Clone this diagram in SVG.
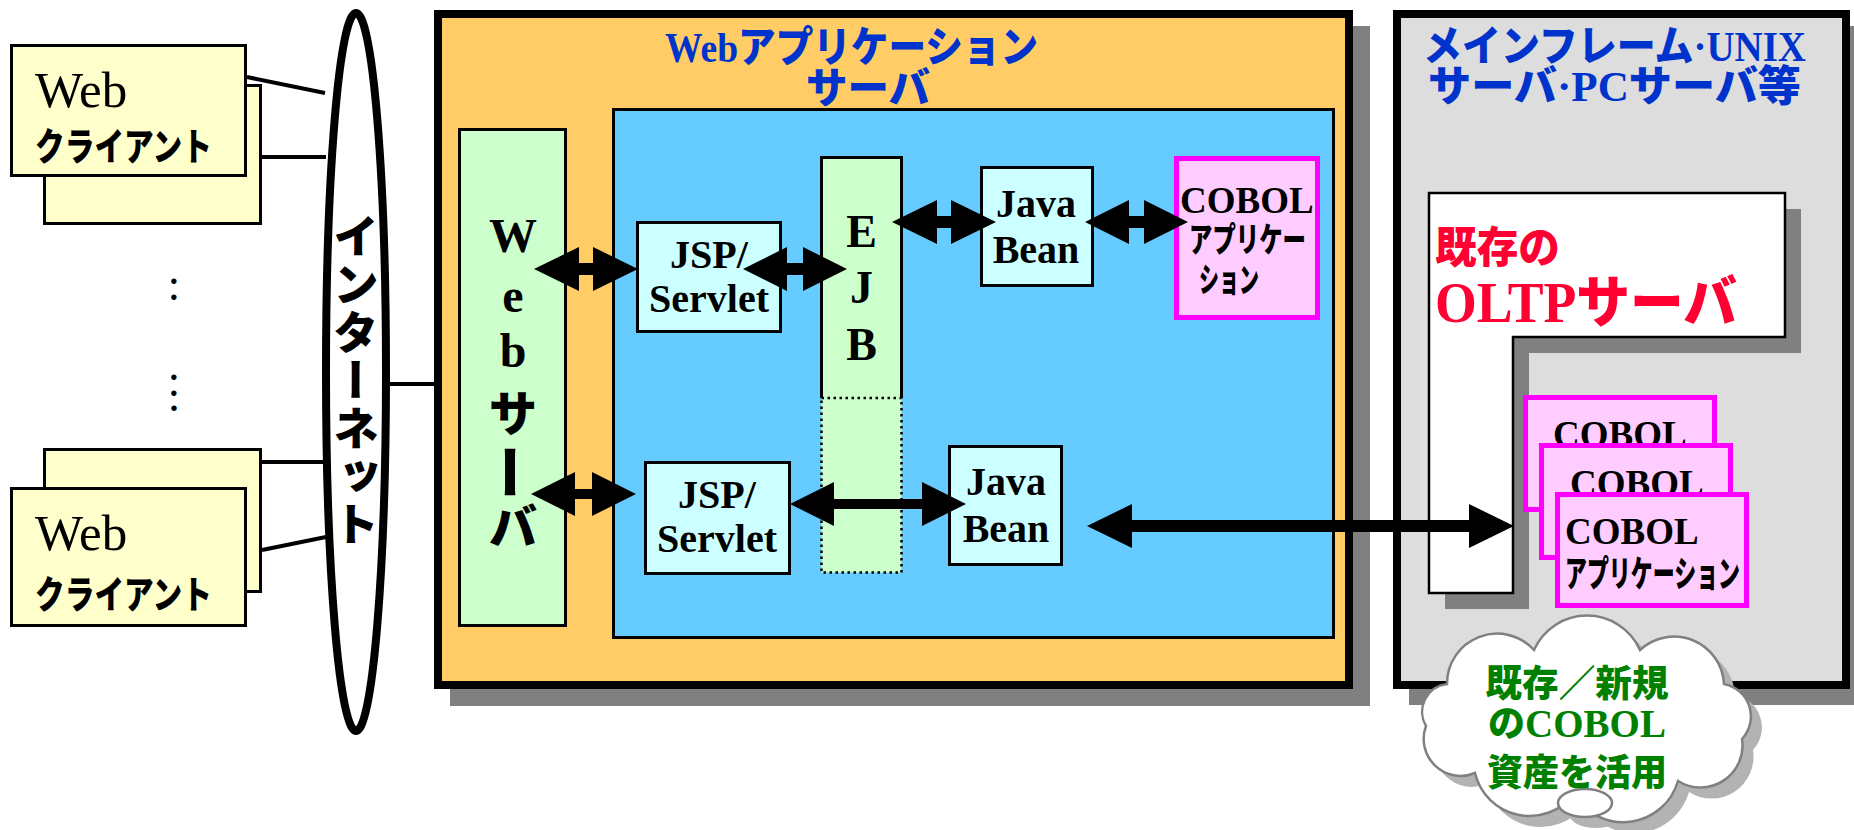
<svg xmlns="http://www.w3.org/2000/svg" width="1854" height="830" viewBox="0 0 1854 830">
<style>
.bx{stroke:#000;stroke-width:3}
.sb{font-family:"Liberation Serif","Noto Sans CJK JP",serif;font-weight:bold;fill:#000}
.sr{font-family:"Liberation Serif","Noto Sans CJK JP",serif;fill:#000}
.jp{font-family:"Noto Sans CJK JP",sans-serif;font-weight:900;fill:#000}
.mix{font-family:"Liberation Serif","Noto Sans CJK JP",serif;font-weight:900}
.cob{fill:#FFCCFF;stroke:#FF00FF;stroke-width:5}
.shadow{fill:#808080}
.ctr{text-anchor:middle}
.vc{text-anchor:middle;dominant-baseline:central}
.arrow{fill:#000}
.line{stroke:#000;stroke-width:4;fill:none}
</style>

<g id="webapp-server">
  <rect class="shadow" x="450" y="26" width="920" height="680"/>
  <rect x="438" y="14" width="911" height="671" fill="#FFCC66" stroke="#000" stroke-width="8"/>
  <text class="mix" x="665" y="62" font-size="42" fill="#0033CC" textLength="373" lengthAdjust="spacingAndGlyphs">Webアプリケーション</text>
  <text class="mix" x="806" y="103" font-size="42" fill="#0033CC" textLength="124" lengthAdjust="spacingAndGlyphs">サーバ</text>
  <rect x="613.5" y="109.5" width="720" height="528" fill="#66CCFF" class="bx"/>
</g>

<g id="host-server">
  <rect class="shadow" x="1409" y="26" width="450" height="679"/>
  <rect x="1397" y="14" width="449" height="671" fill="#DDDDDD" stroke="#000" stroke-width="8"/>
  <text class="mix" x="1423" y="61" font-size="42" fill="#0033CC" textLength="383" lengthAdjust="spacingAndGlyphs">メインフレーム·UNIX</text>
  <text class="mix" x="1428" y="101" font-size="42" fill="#0033CC" textLength="373" lengthAdjust="spacingAndGlyphs">サーバ·PCサーバ等</text>
</g>

<g id="oltp-server">
  <polygon class="shadow" points="1445,209 1801,209 1801,353 1529,353 1529,609 1445,609"/>
  <polygon points="1429,193 1785,193 1785,337 1513,337 1513,593 1429,593" fill="#FFFFFF" stroke="#000" stroke-width="2.5"/>
  <text class="jp" x="1435" y="263" font-size="43" style="fill:#FF0033" textLength="125" lengthAdjust="spacingAndGlyphs">既存の</text>
  <text class="mix" x="1435" y="322" font-size="56" fill="#FF0033" textLength="302" lengthAdjust="spacingAndGlyphs">OLTPサーバ</text>
</g>

<g id="client-top">
  <rect x="44.5" y="85.5" width="216" height="138" fill="#FFFFCC" class="bx"/>
  <rect x="11.5" y="45.5" width="234" height="130" fill="#FFFFCC" class="bx"/>
  <text class="sr" x="35" y="107" font-size="51">Web</text>
  <text class="jp" x="35" y="160" font-size="38" textLength="177" lengthAdjust="spacingAndGlyphs">クライアント</text>
</g>
<g id="client-bottom">
  <rect x="44.5" y="449.5" width="216" height="142" fill="#FFFFCC" class="bx"/>
  <rect x="11.5" y="488.5" width="234" height="137" fill="#FFFFCC" class="bx"/>
  <text class="sr" x="35" y="550" font-size="51">Web</text>
  <text class="jp" x="35" y="608" font-size="38" textLength="177" lengthAdjust="spacingAndGlyphs">クライアント</text>
</g>
<g id="dots">
  <text class="sr ctr" x="174" y="300" font-size="46">:</text>
  <text class="sr ctr" font-size="46"><tspan x="174" y="396">:</tspan><tspan x="174" y="411">.</tspan></text>
</g>

<g id="internet">
  <ellipse cx="356" cy="372" rx="30" ry="359" fill="#FFFFFF" stroke="#000" stroke-width="8"/>
  <text class="jp" x="356" y="213" font-size="46" style="writing-mode:vertical-rl" letter-spacing="2">インターネット</text>
</g>

<g id="web-server">
  <rect x="459.5" y="129.5" width="106" height="496" fill="#CCFFCC" class="bx"/>
  <text class="sb ctr" x="513" y="252" font-size="48">W</text>
  <text class="sb ctr" x="513" y="312" font-size="48">e</text>
  <text class="sb ctr" x="513" y="367" font-size="48">b</text>
  <text class="jp vc" x="513" y="410" font-size="48">サ</text>
  <text class="jp vc" x="513" y="472" font-size="56" transform="rotate(90 513 472)">ー</text>
  <text class="jp vc" x="513" y="523" font-size="48">バ</text>
</g>

<g id="ejb">
  <rect x="821.5" y="157.5" width="80" height="415" fill="#CCFFCC"/>
  <path d="M821.5,398 V157.5 H901.5 V398" fill="none" stroke="#000" stroke-width="3"/>
  <rect x="821.5" y="398" width="80" height="174.5" fill="none" stroke="#000" stroke-width="2.5" stroke-dasharray="2.5 3.5"/>
  <text class="sb ctr" x="861.5" y="247" font-size="46">E</text>
  <text class="sb ctr" x="861.5" y="303" font-size="46">J</text>
  <text class="sb ctr" x="861.5" y="360" font-size="46">B</text>
</g>

<g id="jsp-top">
  <rect x="637.5" y="222.5" width="143" height="109" fill="#CCFFFF" class="bx"/>
  <text class="sb ctr" x="709" y="268" font-size="40">JSP/</text>
  <text class="sb ctr" x="709" y="312" font-size="40">Servlet</text>
</g>
<g id="jsp-bottom">
  <rect x="645.5" y="462.5" width="144" height="111" fill="#CCFFFF" class="bx"/>
  <text class="sb ctr" x="717" y="508" font-size="40">JSP/</text>
  <text class="sb ctr" x="717" y="552" font-size="40">Servlet</text>
</g>
<g id="bean-top">
  <rect x="981.5" y="167.5" width="111" height="118" fill="#CCFFFF" class="bx"/>
  <text class="sb ctr" x="1036" y="217" font-size="40">Java</text>
  <text class="sb ctr" x="1036" y="263" font-size="40">Bean</text>
</g>
<g id="bean-bottom">
  <rect x="949.5" y="446.5" width="112" height="118" fill="#CCFFFF" class="bx"/>
  <text class="sb ctr" x="1006" y="495" font-size="40">Java</text>
  <text class="sb ctr" x="1006" y="542" font-size="40">Bean</text>
</g>
<g id="cobol-app">
  <rect x="1176.5" y="158.5" width="141" height="159" class="cob"/>
  <text class="sb" x="1180" y="213" font-size="37">COBOL</text>
  <text class="jp" x="1189" y="252" font-size="34" textLength="117" lengthAdjust="spacingAndGlyphs">アプリケー</text>
  <text class="jp" x="1199" y="292" font-size="34" textLength="60" lengthAdjust="spacingAndGlyphs">ション</text>
</g>

<g id="cobol-stack">
  <rect x="1525.5" y="397.5" width="189" height="112" class="cob"/>
  <text class="sb" x="1553" y="447" font-size="37">COBOL</text>
  <rect x="1541.5" y="445.5" width="189" height="112" class="cob"/>
  <text class="sb" x="1570" y="496" font-size="37">COBOL</text>
  <rect x="1557.5" y="494.5" width="189" height="111" class="cob"/>
  <text class="sb" x="1565" y="544" font-size="37">COBOL</text>
  <text class="jp" x="1565" y="587" font-size="36" textLength="175" lengthAdjust="spacingAndGlyphs">アプリケーション</text>
</g>

<g id="cloud">
  <g transform="translate(11 11)" fill="#B3B3B3">
    <path d="M1447,684 A50,50 0 0 1 1534,650 A58,58 0 0 1 1640,650 A50,50 0 0 1 1724,684 A33,33 0 0 1 1742,739 A42,42 0 0 1 1678,781 A57,57 0 0 1 1574,794 A56,56 0 0 1 1475,773 A37,37 0 0 1 1426,726 A28,28 0 0 1 1447,684 Z"/>
    <ellipse cx="1585" cy="803" rx="27" ry="14"/>
  </g>
  <path d="M1447,684 A50,50 0 0 1 1534,650 A58,58 0 0 1 1640,650 A50,50 0 0 1 1724,684 A33,33 0 0 1 1742,739 A42,42 0 0 1 1678,781 A57,57 0 0 1 1574,794 A56,56 0 0 1 1475,773 A37,37 0 0 1 1426,726 A28,28 0 0 1 1447,684 Z" fill="#FFFFFF" stroke="#808080" stroke-width="2.5"/>
  <ellipse cx="1585" cy="803" rx="27" ry="14" fill="#FFFFFF" stroke="#808080" stroke-width="2.5"/>
  <text class="jp ctr" x="1577" y="697" font-size="37" style="fill:#008000" textLength="183" lengthAdjust="spacingAndGlyphs">既存／新規</text>
  <text class="jp ctr" x="1577" y="737" font-size="37" style="fill:#008000"><tspan>の</tspan><tspan font-family="Liberation Serif, serif" font-weight="bold" font-size="39">COBOL</tspan></text>
  <text class="jp ctr" x="1577" y="786" font-size="37" style="fill:#008000" textLength="180" lengthAdjust="spacingAndGlyphs">資産を活用</text>
</g>

<g id="connectors">
  <line class="line" x1="247" y1="77" x2="325" y2="93"/>
  <line class="line" x1="262" y1="157" x2="326" y2="157"/>
  <line class="line" x1="262" y1="462" x2="326" y2="462"/>
  <line class="line" x1="262" y1="550" x2="326" y2="537"/>
  <line class="line" x1="390" y1="384" x2="434" y2="384"/>
  <polygon class="arrow" points="534,269 579,247 579,263 593,263 593,247 638,269 593,291 593,275 579,275 579,291"/>
  <polygon class="arrow" points="743,269 787,247 787,263 803,263 803,247 847,269 803,291 803,275 787,275 787,291"/>
  <polygon class="arrow" points="892,222 937,200 937,216 951,216 951,200 996,222 951,244 951,228 937,228 937,244"/>
  <polygon class="arrow" points="1085,222 1129,200 1129,216 1144,216 1144,200 1188,222 1144,244 1144,228 1129,228 1129,244"/>
  <polygon class="arrow" points="531,494 575,472 575,489 592,489 592,472 636,494 592,516 592,499 575,499 575,516"/>
  <polygon class="arrow" points="790,504 834,482 834,499 922,499 922,482 966,504 922,526 922,509 834,509 834,526"/>
  <polygon class="arrow" points="1087,526 1132,504 1132,520 1469,520 1469,504 1514,526 1469,548 1469,532 1132,532 1132,548"/>
</g>
</svg>
